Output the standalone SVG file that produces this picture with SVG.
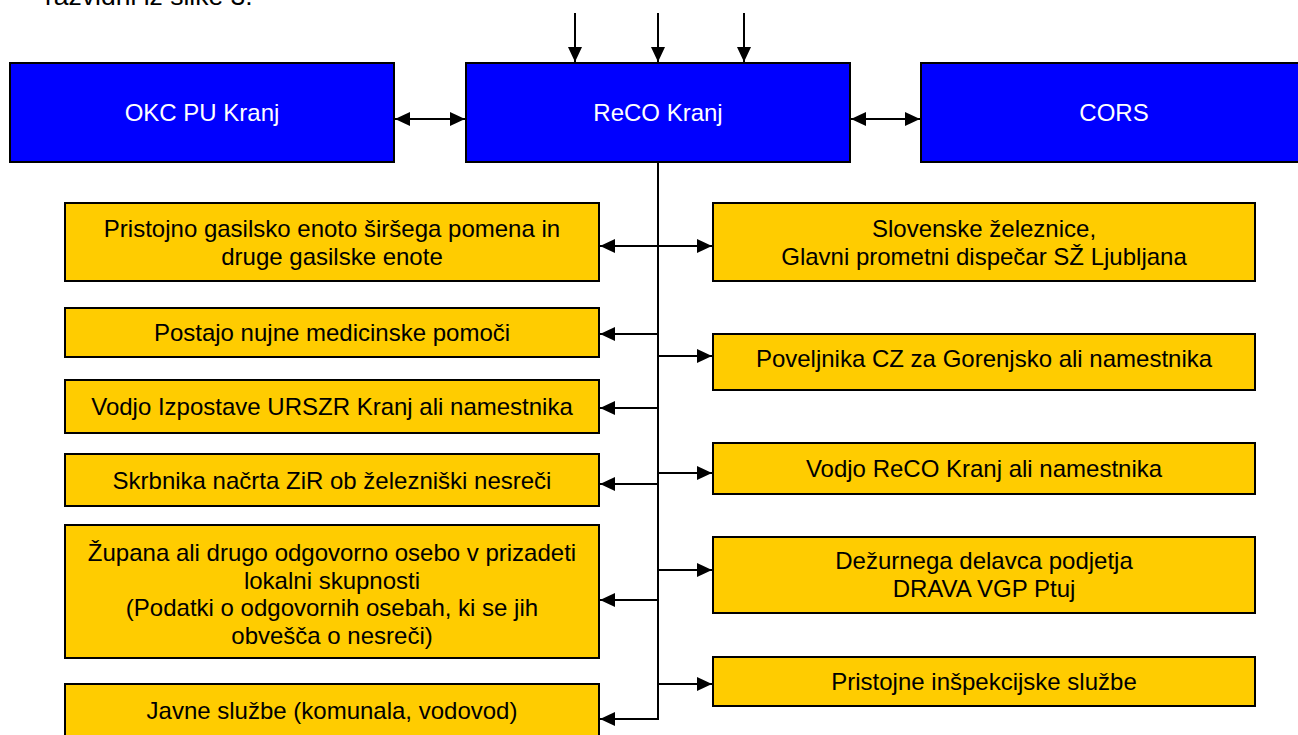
<svg xmlns="http://www.w3.org/2000/svg" width="1298" height="735" viewBox="0 0 1298 735">
<style>
.blue{fill:#0000FF;stroke:#000;stroke-width:2}
.yel{fill:#FFCC00;stroke:#000;stroke-width:2}
.wt{font-family:"Liberation Sans",Arial,sans-serif;font-size:24px;fill:#fff;text-anchor:middle}
.bt{font-family:"Liberation Sans",Arial,sans-serif;font-size:24px;fill:#000;text-anchor:middle}
.ln{fill:none;stroke:#000;stroke-width:2}
.arr{marker-end:url(#ah)}
.dbl{marker-end:url(#ah);marker-start:url(#ah)}
</style>
<defs>
<marker id="ah" viewBox="0 0 15 14" refX="15" refY="7" markerWidth="15" markerHeight="14" markerUnits="userSpaceOnUse" orient="auto-start-reverse">
<path d="M0,0 L15,7 L0,14 z" fill="#000"/>
</marker>
</defs>
<rect width="1298" height="735" fill="#fff"/>
<text x="45" y="5" font-family="Liberation Sans,Arial,sans-serif" font-size="26.5" fill="#000">razvidni iz slike 3.</text>

<g id="okc"><rect class="blue" x="10" y="63" width="384" height="99"/><text class="wt" x="202" y="121">OKC PU Kranj</text></g>
<g id="reco"><rect class="blue" x="466" y="63" width="384" height="99"/><text class="wt" x="658" y="121">ReCO Kranj</text></g>
<g id="cors"><rect class="blue" x="921" y="63" width="386" height="99"/><text class="wt" x="1114" y="121">CORS</text></g>

<g id="l1"><rect class="yel" x="65" y="203" width="534" height="78"/><text class="bt" x="332" y="237">Pristojno gasilsko enoto širšega pomena in</text><text class="bt" x="332" y="265">druge gasilske enote</text></g>
<g id="l2"><rect class="yel" x="65" y="308" width="534" height="49"/><text class="bt" x="332" y="341">Postajo nujne medicinske pomoči</text></g>
<g id="l3"><rect class="yel" x="65" y="380" width="534" height="53"/><text class="bt" x="332" y="415">Vodjo Izpostave URSZR Kranj ali namestnika</text></g>
<g id="l4"><rect class="yel" x="65" y="454" width="534" height="52"/><text class="bt" x="332" y="489">Skrbnika načrta ZiR ob železniški nesreči</text></g>
<g id="l5"><rect class="yel" x="65" y="525" width="534" height="133"/><text class="bt" x="332" y="561">Župana ali drugo odgovorno osebo v prizadeti</text><text class="bt" x="332" y="588.5">lokalni skupnosti</text><text class="bt" x="332" y="616">(Podatki o odgovornih osebah, ki se jih</text><text class="bt" x="332" y="643.5">obvešča o nesreči)</text></g>
<g id="l6"><rect class="yel" x="65" y="684" width="534" height="70"/><text class="bt" x="332" y="719">Javne službe (komunala, vodovod)</text></g>

<g id="r1"><rect class="yel" x="713" y="203" width="542" height="78"/><text class="bt" x="984" y="237">Slovenske železnice,</text><text class="bt" x="984" y="265">Glavni prometni dispečar SŽ Ljubljana</text></g>
<g id="r2"><rect class="yel" x="713" y="334" width="542" height="56"/><text class="bt" x="984" y="367">Poveljnika CZ za Gorenjsko ali namestnika</text></g>
<g id="r3"><rect class="yel" x="713" y="443" width="542" height="51"/><text class="bt" x="984" y="477">Vodjo ReCO Kranj ali namestnika</text></g>
<g id="r4"><rect class="yel" x="713" y="537" width="542" height="76"/><text class="bt" x="984" y="569">Dežurnega delavca podjetja</text><text class="bt" x="984" y="597">DRAVA VGP Ptuj</text></g>
<g id="r5"><rect class="yel" x="713" y="657" width="542" height="49"/><text class="bt" x="984" y="690">Pristojne inšpekcijske službe</text></g>

<g id="connectors">
<line class="ln arr" x1="575" y1="13" x2="575" y2="62"/>
<line class="ln arr" x1="658" y1="13" x2="658" y2="62"/>
<line class="ln arr" x1="744" y1="13" x2="744" y2="62"/>
<line class="ln dbl" x1="395" y1="119" x2="465" y2="119"/>
<line class="ln dbl" x1="851" y1="119" x2="920" y2="119"/>
<path class="ln arr" d="M658,162 V719 H600"/>
<line class="ln dbl" x1="600" y1="246" x2="712" y2="246"/>
<line class="ln arr" x1="658" y1="334" x2="600" y2="334"/>
<line class="ln arr" x1="658" y1="356" x2="712" y2="356"/>
<line class="ln arr" x1="658" y1="408" x2="600" y2="408"/>
<line class="ln arr" x1="658" y1="473" x2="712" y2="473"/>
<line class="ln arr" x1="658" y1="484" x2="600" y2="484"/>
<line class="ln arr" x1="658" y1="570" x2="712" y2="570"/>
<line class="ln arr" x1="658" y1="600" x2="600" y2="600"/>
<line class="ln arr" x1="658" y1="684" x2="712" y2="684"/>
</g>
</svg>
